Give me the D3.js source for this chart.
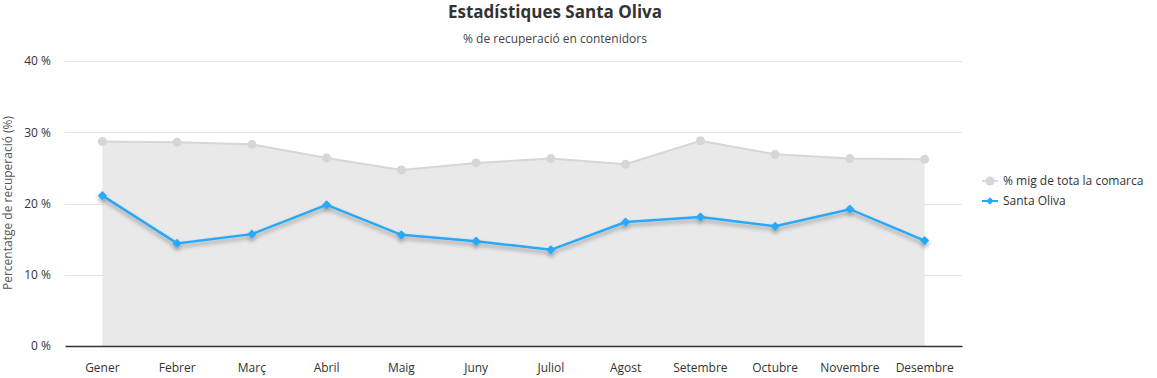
<!DOCTYPE html>
<html>
<head>
<meta charset="utf-8">
<script src="https://cdn.jsdelivr.net/npm/d3@7"></script>
<style>
  body { margin: 0; background: #fff; font-family: "Segoe UI", "Open Sans", "Noto Sans", sans-serif; }
  svg text { fill: #333; }
</style>
</head>
<body>
<svg id="chart"></svg>
<script>
const months = ["Gener", "Febrer", "Març", "Abril", "Maig", "Juny", "Juliol", "Agost", "Setembre", "Octubre", "Novembre", "Desembre"];
const comarcaAvg = [28.7, 28.6, 28.3, 26.4, 24.7, 25.7, 26.3, 25.5, 28.8, 26.9, 26.3, 26.2];
const santaOliva = [21.1, 14.4, 15.7, 19.8, 15.6, 14.7, 13.5, 17.4, 18.1, 16.8, 19.2, 14.8];
const yTicks = [0, 10, 20, 30, 40];
const seriesNames = ["% mig de tota la comarca", "Santa Oliva"];

const width = 1157, height = 378;
const font = '"Segoe UI", "Open Sans", "Noto Sans", sans-serif';
const svg = d3.select("#chart").attr("width", width).attr("height", height);

// shadow for the blue line
const defs = svg.append("defs");
const f = defs.append("filter").attr("id", "shadow")
  .attr("x", "-10%").attr("y", "-30%").attr("width", "120%").attr("height", "160%");
f.append("feDropShadow").attr("dx", 0).attr("dy", 3).attr("stdDeviation", 2)
  .attr("flood-color", "#000").attr("flood-opacity", 0.35);

const plotLeft = 65, plotRight = 962, plotTop = 61, plotBottom = 346;

const x = d3.scaleBand().domain(months).range([plotLeft, plotRight]);
const y = d3.scaleLinear().domain([0, 40]).range([plotBottom, plotTop]);
const cx = d => x(d) + x.bandwidth() / 2;

// title
svg.append("text").attr("x", 555).attr("y", 18).attr("text-anchor", "middle")
  .style("font-size", "17px").style("font-weight", "bold").text("Estadístiques Santa Oliva");
svg.append("text").attr("x", 555).attr("y", 43).attr("text-anchor", "middle")
  .style("font-size", "12px").style("fill", "#444").text("% de recuperació en contenidors");

// grid
svg.append("g").selectAll("line").data(yTicks.slice(1)).enter().append("line")
  .attr("x1", plotLeft).attr("x2", plotRight)
  .attr("y1", d => Math.round(y(d)) + 0.5).attr("y2", d => Math.round(y(d)) + 0.5)
  .attr("stroke", "#e6e6e6");

// y axis labels
const yAxis = svg.append("g").attr("transform", `translate(${plotLeft},0)`)
  .call(d3.axisLeft(y).tickValues(yTicks).tickSize(0).tickPadding(14).tickFormat(d => d + " %"))
  .attr("font-family", font).attr("font-size", 12);
yAxis.select(".domain").remove();
yAxis.selectAll("text").attr("fill", "#333");

svg.append("text").attr("transform", "translate(12,203) rotate(-90)")
  .attr("text-anchor", "middle").style("font-size", "12px").style("fill", "#555")
  .text("Percentatge de recuperació (%)");

// area + gray line
const pts = months.map((m, i) => ({ m, a: comarcaAvg[i], b: santaOliva[i] }));
svg.append("path").datum(pts)
  .attr("fill", "#e9e9e9")
  .attr("d", d3.area().x(d => cx(d.m)).y0(y(0)).y1(d => y(d.a)));
svg.append("path").datum(pts)
  .attr("fill", "none").attr("stroke", "#d6d6d6").attr("stroke-width", 2)
  .attr("d", d3.line().x(d => cx(d.m)).y(d => y(d.a)));
svg.append("g").selectAll("circle").data(pts).enter().append("circle")
  .attr("cx", d => cx(d.m)).attr("cy", d => y(d.a)).attr("r", 4.5).attr("fill", "#d6d6d6");

// x axis
const xAxis = svg.append("g").attr("transform", `translate(0,${plotBottom})`)
  .call(d3.axisBottom(x).tickSize(0).tickPadding(17))
  .attr("font-family", font).attr("font-size", 12);
xAxis.select(".domain").attr("stroke", "#333").attr("stroke-width", 1.5);
xAxis.selectAll("text").attr("fill", "#333");

// blue line
const blue = "#2aa8f8";
const gb = svg.append("g").attr("filter", "url(#shadow)");
gb.append("path").datum(pts)
  .attr("fill", "none").attr("stroke", blue).attr("stroke-width", 2.5)
  .attr("d", d3.line().x(d => cx(d.m)).y(d => y(d.b)));
const diamond = d3.symbol().type(d3.symbolDiamond2).size(55);
gb.selectAll("path.pt").data(pts).enter().append("path").attr("class", "pt")
  .attr("transform", d => `translate(${cx(d.m)},${y(d.b)})`)
  .attr("d", diamond).attr("fill", blue);

// legend
const lg = svg.append("g").attr("transform", "translate(982,181)");
lg.append("line").attr("x1", 0).attr("x2", 16).attr("stroke", "#d6d6d6").attr("stroke-width", 2);
lg.append("circle").attr("cx", 8).attr("r", 4.5).attr("fill", "#d6d6d6");
lg.append("text").attr("x", 21).attr("dy", "0.35em").style("font-size", "12px").text(seriesNames[0]);
const lb = lg.append("g").attr("transform", "translate(0,20)");
lb.append("line").attr("x1", 0).attr("x2", 16).attr("stroke", blue).attr("stroke-width", 2);
lb.append("path").attr("transform", "translate(8,0)").attr("d", d3.symbol().type(d3.symbolDiamond2).size(35)).attr("fill", blue);
lb.append("text").attr("x", 21).attr("dy", "0.35em").style("font-size", "12px").text(seriesNames[1]);
</script>
</body>
</html>
